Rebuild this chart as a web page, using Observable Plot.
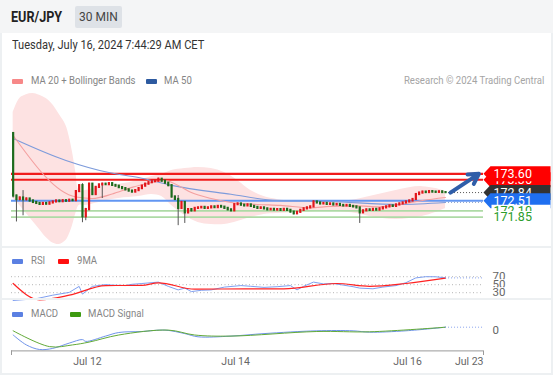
<!DOCTYPE html>
<html><head><meta charset="utf-8">
<script src="https://cdn.jsdelivr.net/npm/d3@7"></script>
<script src="https://cdn.jsdelivr.net/npm/@observablehq/plot@0.6"></script>
<style>
body{margin:0;background:#fff;font-family:Roboto,"Liberation Sans",Arial,sans-serif;}
#root{position:relative;width:553px;height:375px;overflow:hidden;background:#fff;}
.abs{position:absolute;}
.lg{position:absolute;font-size:11px;color:#858585;white-space:nowrap;line-height:12px;transform:scaleX(0.87);transform-origin:left center;}
.sw{position:absolute;width:11px;height:5px;border-radius:1px;}
.sep{position:absolute;left:0;width:553px;background:#edf0f2;z-index:5;}
svg{display:block;}
</style></head><body>
<div id="root">
  <div class="abs" style="left:0;top:0;width:553px;height:33px;background:#f4f5f6"></div>
  <div class="abs" style="left:11px;top:9px;font-weight:bold;font-size:14.5px;color:#222;line-height:17px;transform:scaleX(0.87);transform-origin:left center">EUR/JPY</div>
  <div class="abs" style="left:75px;top:6px;width:47px;height:22px;background:#dee2e7;border-radius:2px;font-size:12px;color:#444;text-align:center;line-height:22px">30 MIN</div>
  <div class="abs" style="left:12px;top:38px;font-size:12.5px;color:#333;line-height:14px;white-space:nowrap;transform:scaleX(0.885);transform-origin:left center">Tuesday, July 16, 2024 7:44:29 AM CET</div>

  <div class="sw" style="left:12px;top:79px;background:#f78888"></div>
  <div class="lg" style="left:31px;top:75px">MA 20 + Bollinger Bands</div>
  <div class="sw" style="left:146px;top:79px;background:#2d5aa0"></div>
  <div class="lg" style="left:164px;top:75px">MA 50</div>
  <div class="lg" style="right:9px;top:75px;color:#a5a5a5;transform-origin:right center">Research © 2024 Trading Central</div>

  <div class="sw" style="left:12px;top:259px;background:#5b80e2"></div>
  <div class="lg" style="left:31px;top:255px">RSI</div>
  <div class="sw" style="left:58px;top:259px;background:#ff1010"></div>
  <div class="lg" style="left:77px;top:255px">9MA</div>

  <div class="sw" style="left:12px;top:312px;background:#5b80e2"></div>
  <div class="lg" style="left:31px;top:308px">MACD</div>
  <div class="sw" style="left:70px;top:312px;background:#3d9a10"></div>
  <div class="lg" style="left:88px;top:308px">MACD Signal</div>

  <div id="mainChart" class="abs" style="left:0;top:88px"></div>
  <div id="rsiChart" class="abs" style="left:0;top:266px"></div>
  <div id="macdChart" class="abs" style="left:0;top:318px"></div>

  <div class="sep" style="top:246px;height:2px"></div>
  <div class="sep" style="top:298px;height:2px"></div>
  <div class="sep" style="top:373px;height:2px"></div>
  <div class="abs" style="left:0;top:33px;width:2px;height:342px;background:#edf0f2;z-index:5"></div>
  <div class="abs" style="left:551px;top:33px;width:2px;height:342px;background:#edf0f2;z-index:5"></div>
</div>
<script>
// ---------- DATA ----------
// 30-min candles, index 0 = Jul 11 afternoon ... 131 = Jul 16 07:30
const opens = [175.23,172.70,172.56,172.62,172.55,172.58,172.50,172.44,172.40,172.36,172.40,172.37,172.42,172.46,172.50,172.47,172.51,172.49,172.53,172.51,
172.88,173.12,171.86,172.15,173.18,172.76,173.05,173.15,173.18,173.16,173.20,173.13,173.10,173.04,173.00,172.95,172.90,172.86,172.92,173.00,
173.10,173.18,173.24,173.28,173.30,173.38,173.30,173.22,173.12,172.66,172.56,172.20,172.44,172.02,172.15,172.10,172.20,172.22,172.24,172.20,
172.22,172.26,172.23,172.28,172.25,172.20,172.14,172.10,172.35,172.38,172.33,172.30,172.34,172.28,172.24,172.20,172.22,172.18,172.14,172.16,
172.13,172.15,172.12,172.16,172.12,172.05,171.98,172.04,172.12,172.18,172.22,172.26,172.46,172.42,172.38,172.40,172.36,172.38,172.34,172.36,
172.32,172.30,172.32,172.28,172.26,172.22,172.02,172.10,172.14,172.12,172.16,172.13,172.18,172.22,172.26,172.30,172.28,172.34,172.38,172.42,
172.46,172.50,172.56,172.76,172.82,172.86,172.84,172.88,172.86,172.85,172.87,172.84];
const highs = [175.26,172.74,172.66,172.92,172.62,172.60,172.53,172.47,172.43,172.43,172.42,172.45,172.49,172.53,172.52,172.54,172.53,172.56,172.55,172.91,
173.15,173.20,172.20,173.22,173.20,173.08,173.18,173.22,173.21,173.23,173.22,173.15,173.12,173.06,173.02,172.97,172.92,172.95,173.03,173.13,
173.21,173.27,173.31,173.33,173.42,173.40,173.32,173.24,173.14,172.70,172.72,172.48,172.46,172.18,172.18,172.23,172.25,172.27,172.26,172.25,
172.29,172.28,172.31,172.30,172.27,172.22,172.16,172.38,172.41,172.40,172.35,172.37,172.36,172.30,172.26,172.25,172.24,172.20,172.19,172.18,
172.18,172.17,172.19,172.18,172.14,172.07,172.07,172.15,172.21,172.25,172.29,172.50,172.48,172.44,172.43,172.42,172.41,172.40,172.39,172.38,
172.34,172.35,172.34,172.30,172.28,172.24,172.13,172.17,172.16,172.19,172.18,172.21,172.25,172.29,172.33,172.32,172.37,172.41,172.45,172.49,
172.53,172.59,172.79,172.85,172.89,172.88,172.91,172.90,172.88,172.90,172.89,172.87];
const lows = [172.62,171.65,172.50,171.90,172.50,172.46,172.41,172.37,172.33,172.34,172.34,172.35,172.40,172.44,172.44,172.45,172.46,172.47,172.48,172.49,
172.85,171.62,171.70,172.10,172.72,172.72,173.02,172.60,173.13,173.14,173.10,173.07,173.01,172.97,172.92,172.87,172.83,172.84,172.90,172.98,
173.08,173.16,173.22,173.25,173.28,173.27,173.19,173.08,172.62,172.52,171.50,172.16,171.59,171.98,172.06,172.08,172.17,172.20,172.17,172.18,
172.20,172.20,172.21,172.22,172.17,172.11,172.07,172.08,172.33,172.30,172.27,172.28,172.25,172.21,172.17,172.18,172.15,172.11,172.12,172.10,
172.11,172.09,172.10,172.09,172.02,171.94,171.96,172.02,172.10,172.16,172.20,172.24,172.39,172.35,172.36,172.33,172.34,172.31,172.32,172.29,
172.27,172.28,172.25,172.23,172.19,171.59,172.00,172.08,172.09,172.10,172.10,172.11,172.16,172.20,172.24,172.25,172.26,172.32,172.36,172.40,
172.44,172.48,172.54,172.74,172.80,172.81,172.82,172.83,172.82,172.83,172.81,172.82];
const closes = [172.70,172.56,172.62,172.55,172.58,172.50,172.44,172.40,172.36,172.40,172.37,172.42,172.46,172.50,172.47,172.51,172.49,172.53,172.51,172.88,
173.12,171.86,172.15,173.18,172.76,173.05,173.15,173.18,173.16,173.20,173.13,173.10,173.04,173.00,172.95,172.90,172.86,172.92,173.00,173.10,
173.18,173.24,173.28,173.30,173.38,173.30,173.22,173.12,172.66,172.56,172.20,172.44,172.02,172.15,172.10,172.20,172.22,172.24,172.20,172.22,
172.26,172.23,172.28,172.25,172.20,172.14,172.10,172.35,172.38,172.33,172.30,172.34,172.28,172.24,172.20,172.22,172.18,172.14,172.16,172.13,
172.15,172.12,172.16,172.12,172.05,171.98,172.04,172.12,172.18,172.22,172.26,172.46,172.42,172.38,172.40,172.36,172.38,172.34,172.36,172.32,
172.30,172.32,172.28,172.26,172.22,172.02,172.10,172.14,172.12,172.16,172.13,172.18,172.22,172.26,172.30,172.28,172.34,172.38,172.42,172.46,
172.50,172.56,172.76,172.82,172.86,172.84,172.88,172.86,172.85,172.87,172.84,172.84];

const ma20Idx = [0,19,24,30,36,42,46,50,54,60,66,74,81,90,96,104,111,118,124,131];
const ma20Val = [175.15,172.66,172.60,172.78,173.05,173.25,173.33,173.13,172.84,172.60,172.44,172.36,172.32,172.22,172.28,172.30,172.26,172.38,172.52,172.64];
const ma50Idx = [0,16,29,38,48,66,80,96,117,131];
const ma50Val = [175.03,174.14,173.65,173.45,173.13,172.77,172.52,172.48,172.36,172.44];

const bandIdx = [0,2,4,6,8,10,12,14,16,17,18,19,20,22,26,32,38,42,45,48,52,56,60,64,68,72,76,80,86,92,98,104,108,112,116,120,124,128,131];
const bandHi = [176.08,176.65,176.80,176.85,176.78,176.65,176.40,176.00,175.56,175.10,174.46,173.65,172.92,172.92,173.08,173.17,173.33,173.49,173.57,173.73,173.81,173.86,173.81,173.65,173.33,172.92,172.68,172.56,172.48,172.52,172.48,172.56,172.68,172.80,172.92,173.04,173.08,173.00,172.88];
const bandLo = [172.60,172.32,171.99,171.67,171.35,171.02,170.80,170.74,170.90,171.14,171.51,171.99,172.32,172.32,172.44,172.60,172.68,172.76,172.68,172.32,171.91,171.63,171.55,171.55,171.67,171.83,171.95,171.99,172.03,172.07,172.07,171.99,171.87,171.79,171.75,171.79,171.87,172.03,172.20];

const resistances = [173.36, 173.60];
const pivot = 172.51;
const supports = [172.10, 171.85];
const forecast = {fromIdx: 132.5, fromPrice: 172.84, toIdx: 141.1, toPrice: 173.60};

const rsiIdx = [0,7,12,17,20,21,24,28,30,34,36,39,44,47,50,52,54,57,60,64,69,72,76,80,84,86,88,91,94,97,100,103,105,109,112,116,119,122,125,128,131];
const rsiVal = [10.5,15,23.8,30.8,45.8,26.5,45.8,50.3,49,47.8,51,53,56.5,45.8,37,41.5,32.8,36,37,44,47.8,46,43.3,45,47.8,37,46,56.5,52,53,49,45,41.5,39.8,44,47.8,55,67,70,69.8,67];
const rsiMaIdx = [0,8,17,28,39,44,55,71,82,98,108,119,131];
const rsiMaVal = [53,12.3,23.8,47.8,48.5,54.8,38.8,39.8,39.8,53,45.8,53,66.3];
const rsiLevels = [70, 50, 30];

const macdIdx = [0,4,8,12,17,21,22,28,32,39,46,52,56,66,76,92,103,108,119,131];
const macdVal = [-0.042,-0.141,-0.187,-0.176,-0.123,-0.088,-0.106,-0.053,-0.017,-0.007,0.007,-0.028,-0.060,-0.053,-0.028,0.000,0.000,-0.014,0.000,0.036];
const sigIdx = [0,11,18,23,32,47,55,66,92,108,131];
const sigVal = [0.000,-0.158,-0.141,-0.113,-0.042,0.007,-0.042,-0.053,-0.007,-0.010,0.036];

const xTickIdx = [22.5, 67.4, 119.5];
const xTickLabels = ["Jul 12", "Jul 14", "Jul 16"];
const xEndLabel = "Jul 23";

// ---------- LAYOUT ----------
const W = 553, ML = 11, MR = 70;
const xDom = [-0.5, 142.5];
const FONT = "Roboto, 'Liberation Sans', Arial, sans-serif";
const baseStyle = {background: "transparent", fontFamily: FONT, overflow: "visible"};
const xScale = {domain: xDom, axis: null, label: null};

const idx = d3.range(closes.length);
const last = closes.length - 1;
const band = bandIdx.map((i, k) => ({i, hi: bandHi[k], lo: bandLo[k]}));
const ma20 = ma20Idx.map((i, k) => ({i, v: ma20Val[k]}));
const ma50 = ma50Idx.map((i, k) => ({i, v: ma50Val[k]}));

const tagSymbol = {draw(ctx) { ctx.moveTo(0, 0); ctx.lineTo(7, -7.5); ctx.lineTo(67, -7.5); ctx.lineTo(67, 7.5); ctx.lineTo(7, 7.5); ctx.closePath(); }};
const boxSymbol = {draw(ctx) { ctx.moveTo(8, -6); ctx.lineTo(67, -6); ctx.lineTo(67, 6); ctx.lineTo(8, 6); ctx.closePath(); }};

const tags = [
  {v: resistances[0], bg: "#ff0000", fg: "#fff", sym: tagSymbol},
  {v: resistances[1], bg: "#ff0000", fg: "#fff", sym: tagSymbol},
  {v: closes[last], bg: "#333333", fg: "#fff", sym: tagSymbol},
  {v: pivot, bg: "#1f6ff0", fg: "#fff", sym: tagSymbol},
  {v: supports[0], bg: "#ffffff", fg: "#2b9d2b", sym: boxSymbol},
  {v: supports[1], bg: "#ffffff", fg: "#2b9d2b", sym: boxSymbol}
];
const tagMarks = tags.flatMap(t => [
  Plot.dot([t], {y: "v", frameAnchor: "right", symbol: t.sym, fill: t.bg, stroke: "none", r: 8}),
  Plot.text([t], {y: "v", frameAnchor: "right", dx: 10, textAnchor: "start", text: d => d.v.toFixed(2), fill: t.fg, fontSize: 12.5})
]);

const main = Plot.plot({
  width: W, height: 158, marginLeft: ML, marginRight: MR, marginTop: 0, marginBottom: 0,
  x: xScale,
  y: {domain: [170.6567, 177.0534], axis: null, label: null},
  style: baseStyle,
  marks: [
    Plot.areaY(band, {x: "i", y1: "lo", y2: "hi", curve: "catmull-rom", fill: "#fde2e2"}),
    Plot.ruleY(resistances, {stroke: "#f01c1c", strokeWidth: 2.2}),
    Plot.ruleY([pivot], {stroke: "#6296f2", strokeWidth: 2}),
    Plot.ruleY(supports, {stroke: "#aedaa6", strokeWidth: 1.8}),
    Plot.line(ma50, {x: "i", y: "v", curve: "monotone-x", stroke: "#7d9bdb", strokeWidth: 1.1}),
    Plot.line(ma20, {x: "i", y: "v", curve: "monotone-x", stroke: "#f4a0a0", strokeWidth: 1.1}),
    Plot.ruleY([ma50Val[ma50Val.length - 1]], {x1: last, x2: xDom[1], stroke: "#8aa0cc", strokeDasharray: "1,2"}),
    Plot.ruleY([closes[last]], {x1: last, x2: xDom[1], stroke: "#555", strokeDasharray: "1,2"}),
    Plot.ruleX(idx, {x: d => d, y1: d => lows[d], y2: d => highs[d], stroke: "#555", strokeWidth: 1}),
    Plot.ruleX(idx, {x: d => d, y1: d => opens[d], y2: d => closes[d], stroke: d => closes[d] > opens[d] ? "#e3151a" : "#1d6b1d", strokeWidth: 2.2, strokeLinecap: "square"}),
    Plot.arrow([forecast], {x1: "fromIdx", y1: "fromPrice", x2: "toIdx", y2: "toPrice", stroke: "#2f5ea9", strokeWidth: 4, headLength: 10}),
    ...tagMarks
  ]
});
document.getElementById("mainChart").append(main);

// RSI
const rsi = rsiIdx.map((i, k) => ({i, v: rsiVal[k]}));
const rsiMa = rsiMaIdx.map((i, k) => ({i, v: rsiMaVal[k]}));
const rsiPlot = Plot.plot({
  width: W, height: 36, marginLeft: ML, marginRight: MR, marginTop: 0, marginBottom: 0,
  x: xScale,
  y: {domain: [5.5, 95.5], axis: null, label: null},
  style: baseStyle,
  marks: [
    Plot.ruleY(rsiLevels, {stroke: "#b5b5b5", strokeDasharray: "1,2.5"}),
    Plot.line(rsi, {x: "i", y: "v", stroke: "#7f9ff0", strokeWidth: 1}),
    Plot.line(rsiMa, {x: "i", y: "v", stroke: "#f22", strokeWidth: 1.2, curve: "monotone-x"}),
    Plot.ruleY([rsiVal[rsiVal.length - 1]], {x1: last, x2: xDom[1], stroke: "#8aa4ee", strokeDasharray: "1,2"}),
    Plot.text(rsiLevels, {y: d => d, text: d => String(d), frameAnchor: "right", dx: 9, textAnchor: "start", fill: "#666", stroke: "white", strokeWidth: 2, fontSize: 11.5})
  ]
});
document.getElementById("rsiChart").append(rsiPlot);

// MACD
const macd = macdIdx.map((i, k) => ({i, v: macdVal[k]}));
const sig = sigIdx.map((i, k) => ({i, v: sigVal[k]}));
const macdDom = [-0.201, 0.123];
const macdPlot = Plot.plot({
  width: W, height: 54, marginLeft: ML, marginRight: MR, marginTop: 0, marginBottom: 21.6,
  x: xScale,
  y: {domain: macdDom, axis: null, label: null},
  style: {...baseStyle, fontSize: "11px"},
  marks: [
    Plot.line(macd, {x: "i", y: "v", curve: "catmull-rom", stroke: "#6f93ea", strokeWidth: 1}),
    Plot.line(sig, {x: "i", y: "v", curve: "catmull-rom", stroke: "#62aa38", strokeWidth: 1}),
    Plot.ruleY([macdVal[macdVal.length - 1]], {x1: last, x2: xDom[1], stroke: "#8aa4ee", strokeDasharray: "1,2"}),
    Plot.text([0], {y: d => d, text: d => String(d), frameAnchor: "right", dx: 9, textAnchor: "start", fill: "#666", fontSize: 11.5}),
    Plot.ruleY([macdDom[0]], {stroke: "#9a9a9a"}),
    Plot.ruleX(xDom, {y1: macdDom[0], y2: macdDom[0] - 0.046, stroke: "#9a9a9a"}),
    Plot.axisX(xTickIdx, {anchor: "bottom", label: null, tickSize: 0, tickPadding: 7, tickFormat: d => xTickLabels[xTickIdx.indexOf(d)], fill: "#666", fontSize: 10.5}),
    Plot.axisX([xDom[1]], {anchor: "bottom", label: null, tickSize: 0, tickPadding: 7, tickFormat: () => xEndLabel, textAnchor: "end", fill: "#666", fontSize: 10.5})
  ]
});
document.getElementById("macdChart").append(macdPlot);
</script>
</body></html>
